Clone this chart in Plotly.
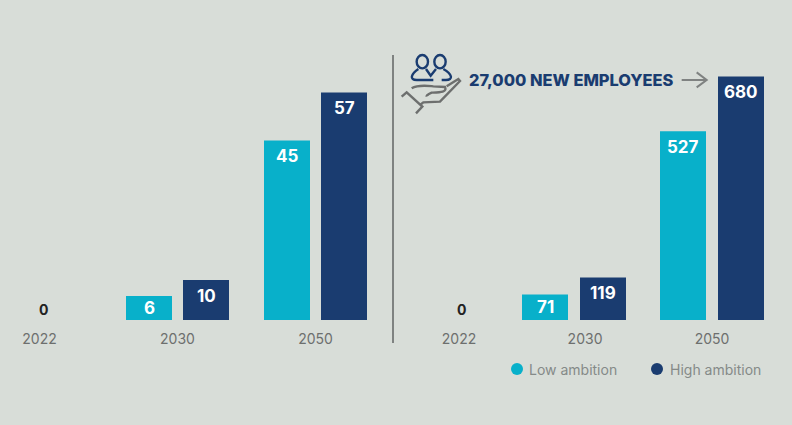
import plotly.graph_objects as go
from plotly.subplots import make_subplots

# Values per scenario; the left panel and the right panel have their own scales
years = ["2022", "2030", "2050"]
left_low = [0, 6, 45]
left_high = [0, 10, 57]
right_low = [0, 71, 527]
right_high = [0, 119, 680]
series_names = ["Low ambition", "High ambition"]
callout = "27,000 NEW EMPLOYEES"

W, H = 792, 425
BG = "#d8ddd8"
TEAL = "#08b0ca"
NAVY = "#1a3c70"
GREY = "#7f8281"
HAND = "#6d6f6e"
BASE = 320           # pixel row of the bar baseline
STEP = 138           # pixels per group on the x axes
BAR = 46 / STEP


def px(x):
    return x / W


def py(y):
    return 1 - y / H


def path(points):
    """SVG path in paper coordinates from (x, y) pixels; 'C' triples are curves."""
    return " ".join(
        cmd + " " + " ".join(f"{px(a):.5f},{py(b):.5f}" for a, b in pts)
        for cmd, *pts in points
    )


def ic(x, y):
    # icon drawing grid: three units per pixel
    return (390 + x / 3, 45 + y / 3)


def stroke(points, color, width=2.4):
    cmds = []
    for i, p in enumerate(points):
        if len(p) == 2:
            cmds.append(("M" if i == 0 else "L", ic(*p)))
        else:
            cmds.append(("C", ic(p[0], p[1]), ic(p[2], p[3]), ic(p[4], p[5])))
    return dict(type="path", xref="paper", yref="paper", path=path(cmds),
                line=dict(color=color, width=width), layer="above")


def head(cx, cy, rx, ry):
    kx, ky = 0.55 * rx, 0.55 * ry
    return stroke([
        (cx - rx, cy),
        (cx - rx, cy - ky, cx - kx, cy - ry, cx, cy - ry),
        (cx + kx, cy - ry, cx + rx, cy - ky, cx + rx, cy),
        (cx + rx, cy + ky, cx + kx, cy + ry, cx, cy + ry),
        (cx - kx, cy + ry, cx - rx, cy + ky, cx - rx, cy),
    ], NAVY)


fig = make_subplots(rows=1, cols=2, horizontal_spacing=0)

panels = [
    (1, left_low, left_high, 39.5, 3.99, [0, 1, 2], 0.028, -51.5, 5.5, (0, 390)),
    (2, right_low, right_high, 436, 0.358, [0.167, 1.08, 2], 0.188, -52, 6, (396, 792)),
]

annotations = []
for col, low, high, origin, scale, ticks, zero_x, off_low, off_high, dom in panels:
    slots = list(range(len(years)))
    suffix = "" if col == 1 else "2"
    for values, color, offset, name in (
        (low, TEAL, off_low, series_names[0]),
        (high, NAVY, off_high, series_names[1]),
    ):
        fig.add_trace(go.Bar(
            x=slots, y=values, name=name, width=BAR, offset=offset / STEP,
            marker=dict(color=color, line=dict(width=0)),
            showlegend=False,
        ), row=1, col=col)
        # white value label near the top of each bar
        for slot, v in zip(slots, values):
            if v:
                annotations.append(dict(
                    x=slot + (offset + 23) / STEP, y=v,
                    xref="x" + suffix, yref="y" + suffix,
                    text=str(v), showarrow=False, yanchor="middle",
                    yshift=-min(15.5, v * scale / 2),
                    font=dict(family="Inter", size=17, color="white", weight=700),
                ))
    fig.update_xaxes(
        domain=[dom[0] / W, dom[1] / W],
        range=[(dom[0] - origin) / STEP, (dom[1] - origin) / STEP],
        tickmode="array", tickvals=ticks, ticktext=years,
        ticks="outside", ticklen=6, tickcolor="rgba(0,0,0,0)",
        tickfont=dict(family="Inter", size=14, color="#6d6f6e"),
        showgrid=False, zeroline=False, showline=False, row=1, col=col,
    )
    fig.update_yaxes(
        domain=[py(BASE), 1], range=[0, BASE / scale], visible=False,
        row=1, col=col,
    )
    # the first year has no bar, only its zero label
    annotations.append(dict(
        x=zero_x, y=low[0], xref="x" + suffix, yref="y" + suffix,
        text=str(low[0]), showarrow=False, yanchor="middle", yshift=11,
        font=dict(family="Inter", size=14, color="#222222", weight=700),
    ))

# callout text and key
annotations.append(dict(
    x=px(467), y=py(80), xref="paper", yref="paper", xanchor="left", yanchor="middle",
    text=callout, showarrow=False,
    font=dict(family="Inter", size=16.4, color=NAVY, weight=800),
))
for label, x_text in zip(series_names, (527, 668)):
    annotations.append(dict(
        x=px(x_text), y=py(369), xref="paper", yref="paper", xanchor="left", yanchor="middle",
        text=label, showarrow=False,
        font=dict(family="Inter", size=14, color="#858a88"),
    ))

shapes = [
    # divider between the panels
    dict(type="line", xref="paper", yref="paper", x0=px(393), x1=px(393),
         y0=py(55), y1=py(343), line=dict(color=GREY, width=2)),
    # callout arrow
    stroke([(875, 105), (950, 105)], GREY, 2),
    stroke([(920, 82), (950, 105), (920, 127)], GREY, 2),
    # people above an open hand
    head(97, 50, 17, 20),
    head(150, 50, 17, 20),
    stroke([(85, 72), (62, 88, 58, 105, 80, 105), (130, 105)], NAVY),
    stroke([(108, 72), (122, 92), (138, 72)], NAVY),
    stroke([(160, 72), (188, 88, 190, 105, 168, 105), (155, 105)], NAVY),
    stroke([(35, 155), (50, 142), (97, 185), (78, 205)], HAND),
    stroke([(65, 130), (85, 118, 110, 122, 130, 124), (165, 126),
            (172, 142, 150, 142, 125, 143), (108, 150, 110, 155, 110, 155)], HAND),
    stroke([(170, 124), (205, 102), (210, 108), (150, 170), (100, 172), (90, 180)], HAND),
]
# key markers
for color, x_dot in zip((TEAL, NAVY), (517, 657)):
    shapes.append(dict(type="circle", xref="paper", yref="paper",
                       x0=px(x_dot - 6), x1=px(x_dot + 6),
                       y0=py(375), y1=py(363),
                       fillcolor=color, line=dict(width=0)))

fig.update_layout(
    width=W, height=H, margin=dict(l=0, r=0, t=0, b=0),
    paper_bgcolor=BG, plot_bgcolor=BG, barmode="overlay",
    showlegend=False, annotations=annotations, shapes=shapes,
    font=dict(family="Inter"),
)
fig.write_html("out.html", config=dict(displayModeBar=False))
